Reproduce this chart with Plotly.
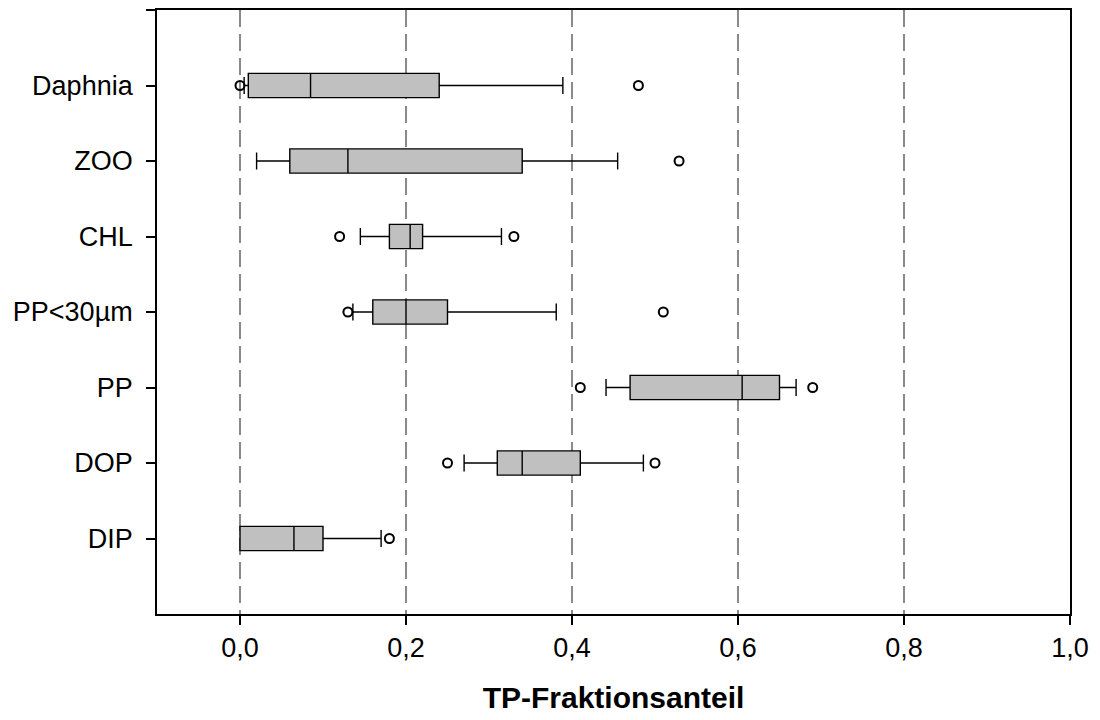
import plotly.graph_objects as go

# Fractions of total phosphorus per pool (box statistics)
categories = ["Daphnia", "ZOO", "CHL", "PP<30µm", "PP", "DOP", "DIP"]
lower_whisker = [0.005, 0.020, 0.145, 0.136, 0.441, 0.270, 0.000]
q1_vals = [0.010, 0.060, 0.180, 0.160, 0.470, 0.310, 0.000]
median_vals = [0.085, 0.130, 0.205, 0.200, 0.605, 0.340, 0.065]
q3_vals = [0.240, 0.340, 0.220, 0.250, 0.650, 0.410, 0.100]
upper_whisker = [0.389, 0.455, 0.315, 0.381, 0.670, 0.486, 0.170]

# Outliers: (category, value)
outlier_cats = ["Daphnia", "Daphnia", "ZOO", "CHL", "CHL", "PP<30µm", "PP<30µm",
                "PP", "PP", "DOP", "DOP", "DIP"]
outlier_vals = [0.000, 0.480, 0.529, 0.120, 0.330, 0.130, 0.510,
                0.410, 0.690, 0.250, 0.500, 0.180]

x_tickvals = [0.0, 0.2, 0.4, 0.6, 0.8, 1.0]
x_ticktext = ["0,0", "0,2", "0,4", "0,6", "0,8", "1,0"]

# categories listed top to bottom -> numeric positions bottom to top
n = len(categories)
pos = {c: n - 1 - i for i, c in enumerate(categories)}
y_pos = [pos[c] for c in categories]

fig = go.Figure()

fig.add_trace(go.Box(
    orientation="h",
    y=y_pos,
    q1=q1_vals,
    median=median_vals,
    q3=q3_vals,
    lowerfence=lower_whisker,
    upperfence=upper_whisker,
    width=0.32,
    whiskerwidth=0.7,
    fillcolor="#c0c0c0",
    line=dict(color="black", width=1.4),
    boxpoints=False,
    hoverinfo="skip",
    showlegend=False,
))

fig.add_trace(go.Scatter(
    x=outlier_vals,
    y=[pos[c] for c in outlier_cats],
    mode="markers",
    marker=dict(symbol="circle-open", size=9, color="black",
                line=dict(color="black", width=2)),
    hoverinfo="skip",
    showlegend=False,
))

font_family = "Liberation Sans, Arial, sans-serif"

fig.update_layout(
    width=1100,
    height=720,
    margin=dict(l=157, r=30, t=10, b=106),
    paper_bgcolor="white",
    plot_bgcolor="white",
    font=dict(family=font_family, size=27, color="black"),
    xaxis=dict(
        range=[-0.1, 1.0],
        tickvals=x_tickvals,
        ticktext=x_ticktext,
        ticks="outside",
        ticklen=9,
        tickwidth=1.5,
        tickcolor="black",
        ticklabelstandoff=0,
        showline=True,
        linecolor="black",
        linewidth=1.8,
        mirror=True,
        showgrid=True,
        gridcolor="#8a8a8a",
        gridwidth=1.6,
        griddash="17px,7px",
        zeroline=False,
        automargin=False,
        title=dict(text="<b>TP-Fraktionsanteil</b>",
                   font=dict(family=font_family, size=30, color="black"),
                   standoff=25),
    ),
    yaxis=dict(
        range=[-1, n],
        tickvals=y_pos + [n],
        ticktext=categories + [""],
        ticks="outside",
        ticklen=9,
        tickwidth=1.5,
        tickcolor="black",
        ticklabelstandoff=8,
        showline=True,
        linecolor="black",
        linewidth=1.8,
        mirror=True,
        showgrid=False,
        zeroline=False,
        automargin=False,
    ),
)

fig.write_html("out.html")
